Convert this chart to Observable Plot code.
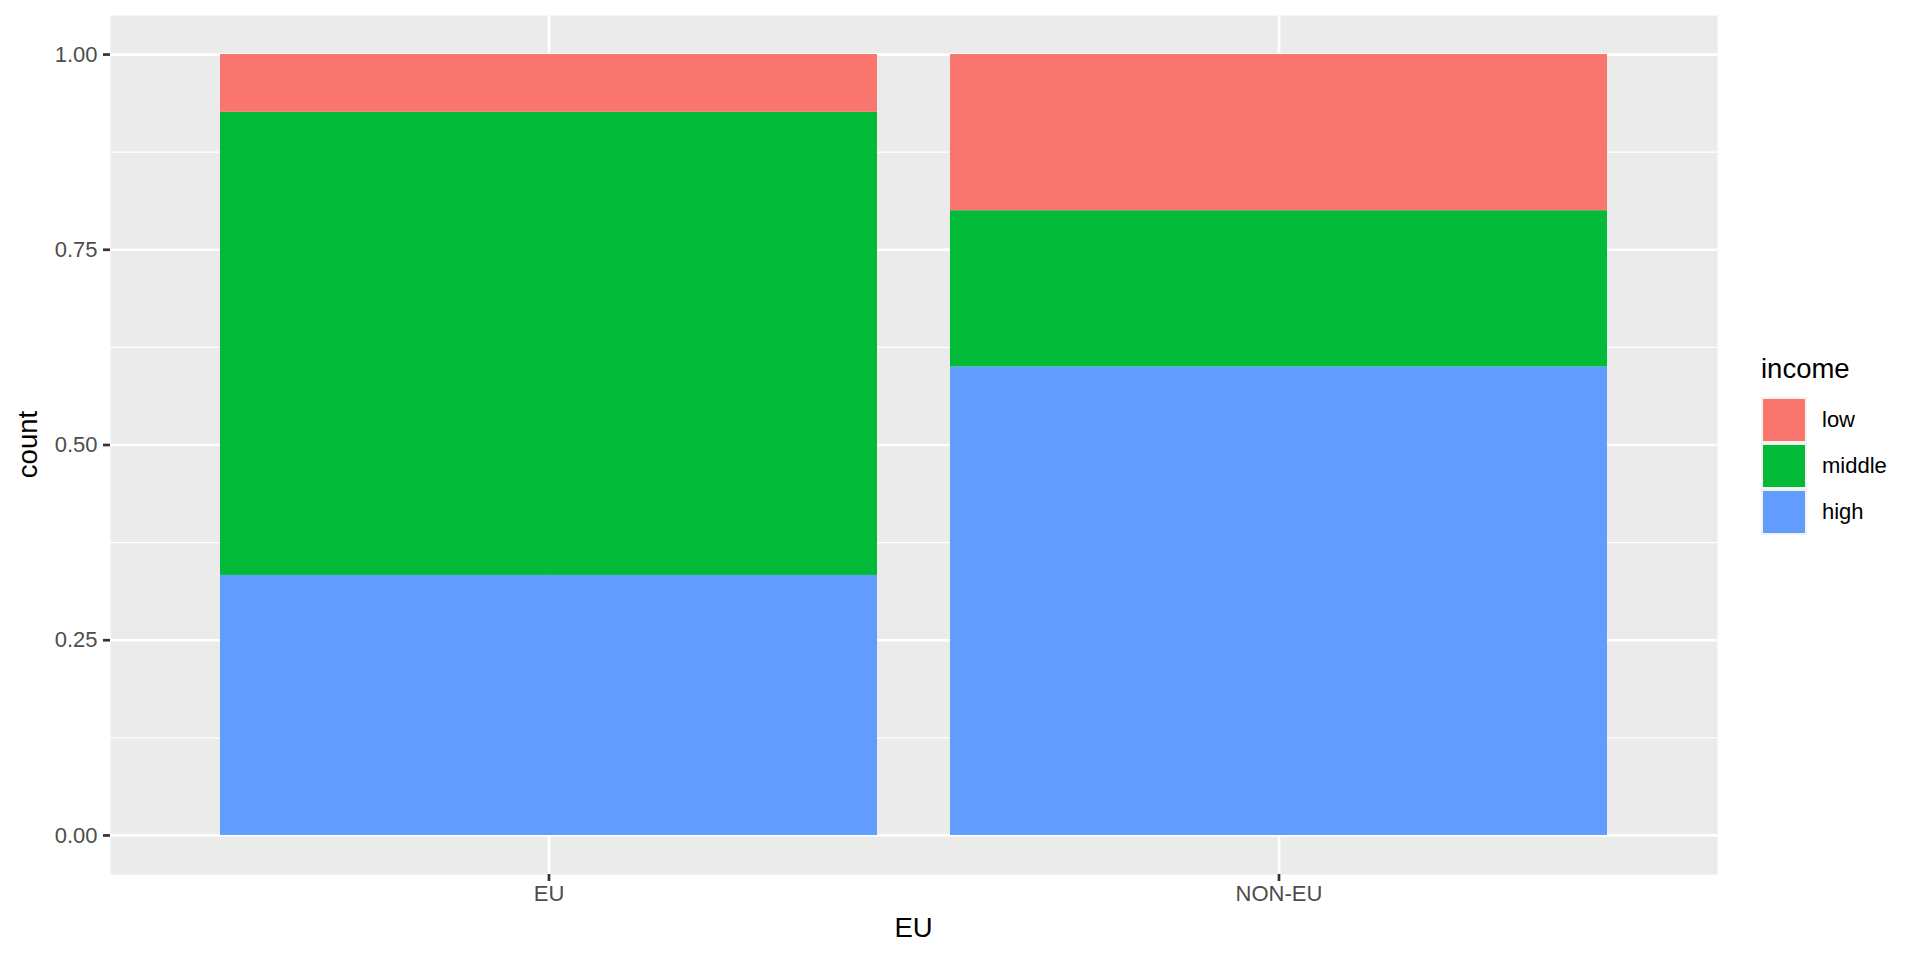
<!DOCTYPE html>
<html>
<head>
<meta charset="utf-8">
<script src="https://cdn.jsdelivr.net/npm/d3@7"></script>
<script src="https://cdn.jsdelivr.net/npm/@observablehq/plot@0.6"></script>
<style>
  html, body { margin: 0; padding: 0; background: #fff; }
  #wrap { position: relative; width: 1920px; height: 960px; font-family: "Liberation Sans", Arial, sans-serif; }
  #legend { position: absolute; left: 1761px; top: 352px; }
  #legend .title { font-size: 27.5px; color: #000; height: 45px; line-height: 34px; }
  #legend .row { display: flex; align-items: center; height: 46px; }
  #legend .key { width: 46px; height: 46px; background: #F2F2F2; box-sizing: border-box; padding: 2px; }
  #legend .key div { width: 100%; height: 100%; }
  #legend .lab { margin-left: 15px; font-size: 22px; color: #000; }
</style>
</head>
<body>
<div id="wrap"><div id="chart"></div><div id="legend"></div></div>
<script>
// ---- data ----
const regions = ["EU", "NON-EU"];
const incomes = ["low", "middle", "high"];
const incomeColors = ["#F8766D", "#00BA38", "#619CFF"];
// shares per region, listed bottom-to-top: high, middle, low
const euShares = {high: 0.333, middle: 0.593, low: 0.074};
const nonEuShares = {high: 0.6, middle: 0.2, low: 0.2};
const yMajorTicks = [0, 0.25, 0.5, 0.75, 1];
const yMinorTicks = [0.125, 0.375, 0.625, 0.875];
const xTitle = "EU";
const yTitle = "count";
const legendTitle = "income";

const stackOrder = ["high", "middle", "low"];
const table = [];
for (const [region, shares] of [[regions[0], euShares], [regions[1], nonEuShares]]) {
  for (const inc of stackOrder) table.push({region, income: inc, value: shares[inc]});
}

const W = 1920, H = 960;
const mL = 110, mR = 203, mT = 15, mB = 86;

const chart = Plot.plot({
  width: W, height: H,
  marginLeft: mL, marginRight: mR, marginTop: mT, marginBottom: mB,
  style: {fontFamily: "'Liberation Sans', Arial, sans-serif", fontSize: "22px", background: "transparent"},
  x: {type: "band", domain: regions, paddingInner: 0.1, paddingOuter: 0.15, align: 0.5, label: null},
  y: {domain: [-0.05, 1.05], label: null},
  color: {domain: incomes, range: incomeColors},
  marks: [
    Plot.frame({fill: "#EBEBEB", stroke: null}),
    Plot.ruleY(yMinorTicks, {stroke: "#fff", strokeWidth: 1.4}),
    Plot.ruleY(yMajorTicks, {stroke: "#fff", strokeWidth: 2.7}),
    Plot.ruleX(regions, {stroke: "#fff", strokeWidth: 2.7}),
    Plot.barY(table, {x: "region", y: "value", fill: "income", order: null}),
    Plot.axisY({ticks: yMajorTicks, tickFormat: d3.format(".2f"), tickSize: 7, tickPadding: 6, label: null, fontSize: 22}),
    Plot.axisX({tickSize: 7, tickPadding: 4, label: null, fontSize: 22})
  ]
});
document.getElementById("chart").appendChild(chart);

const svg = d3.select(chart);
svg.selectAll('[aria-label="y-axis tick"], [aria-label="x-axis tick"]').attr("stroke", "#333333").attr("stroke-width", 2.7);
svg.selectAll('[aria-label="y-axis tick label"], [aria-label="x-axis tick label"]').attr("fill", "#4D4D4D");

// axis titles
svg.append("text")
  .attr("x", mL + (W - mL - mR) / 2).attr("y", 927)
  .attr("text-anchor", "middle").attr("dominant-baseline", "central")
  .attr("font-size", 27.5).attr("fill", "#000").text(xTitle);
svg.append("text")
  .attr("transform", `translate(27,${mT + (H - mT - mB) / 2}) rotate(-90)`)
  .attr("text-anchor", "middle").attr("dominant-baseline", "central")
  .attr("font-size", 27.5).attr("fill", "#000").text(yTitle);

// legend
const lg = d3.select("#legend");
lg.append("div").attr("class", "title").text(legendTitle);
incomes.forEach((inc, i) => {
  const row = lg.append("div").attr("class", "row");
  row.append("div").attr("class", "key").append("div").style("background", incomeColors[i]);
  row.append("div").attr("class", "lab").text(inc);
});
</script>
</body>
</html>
